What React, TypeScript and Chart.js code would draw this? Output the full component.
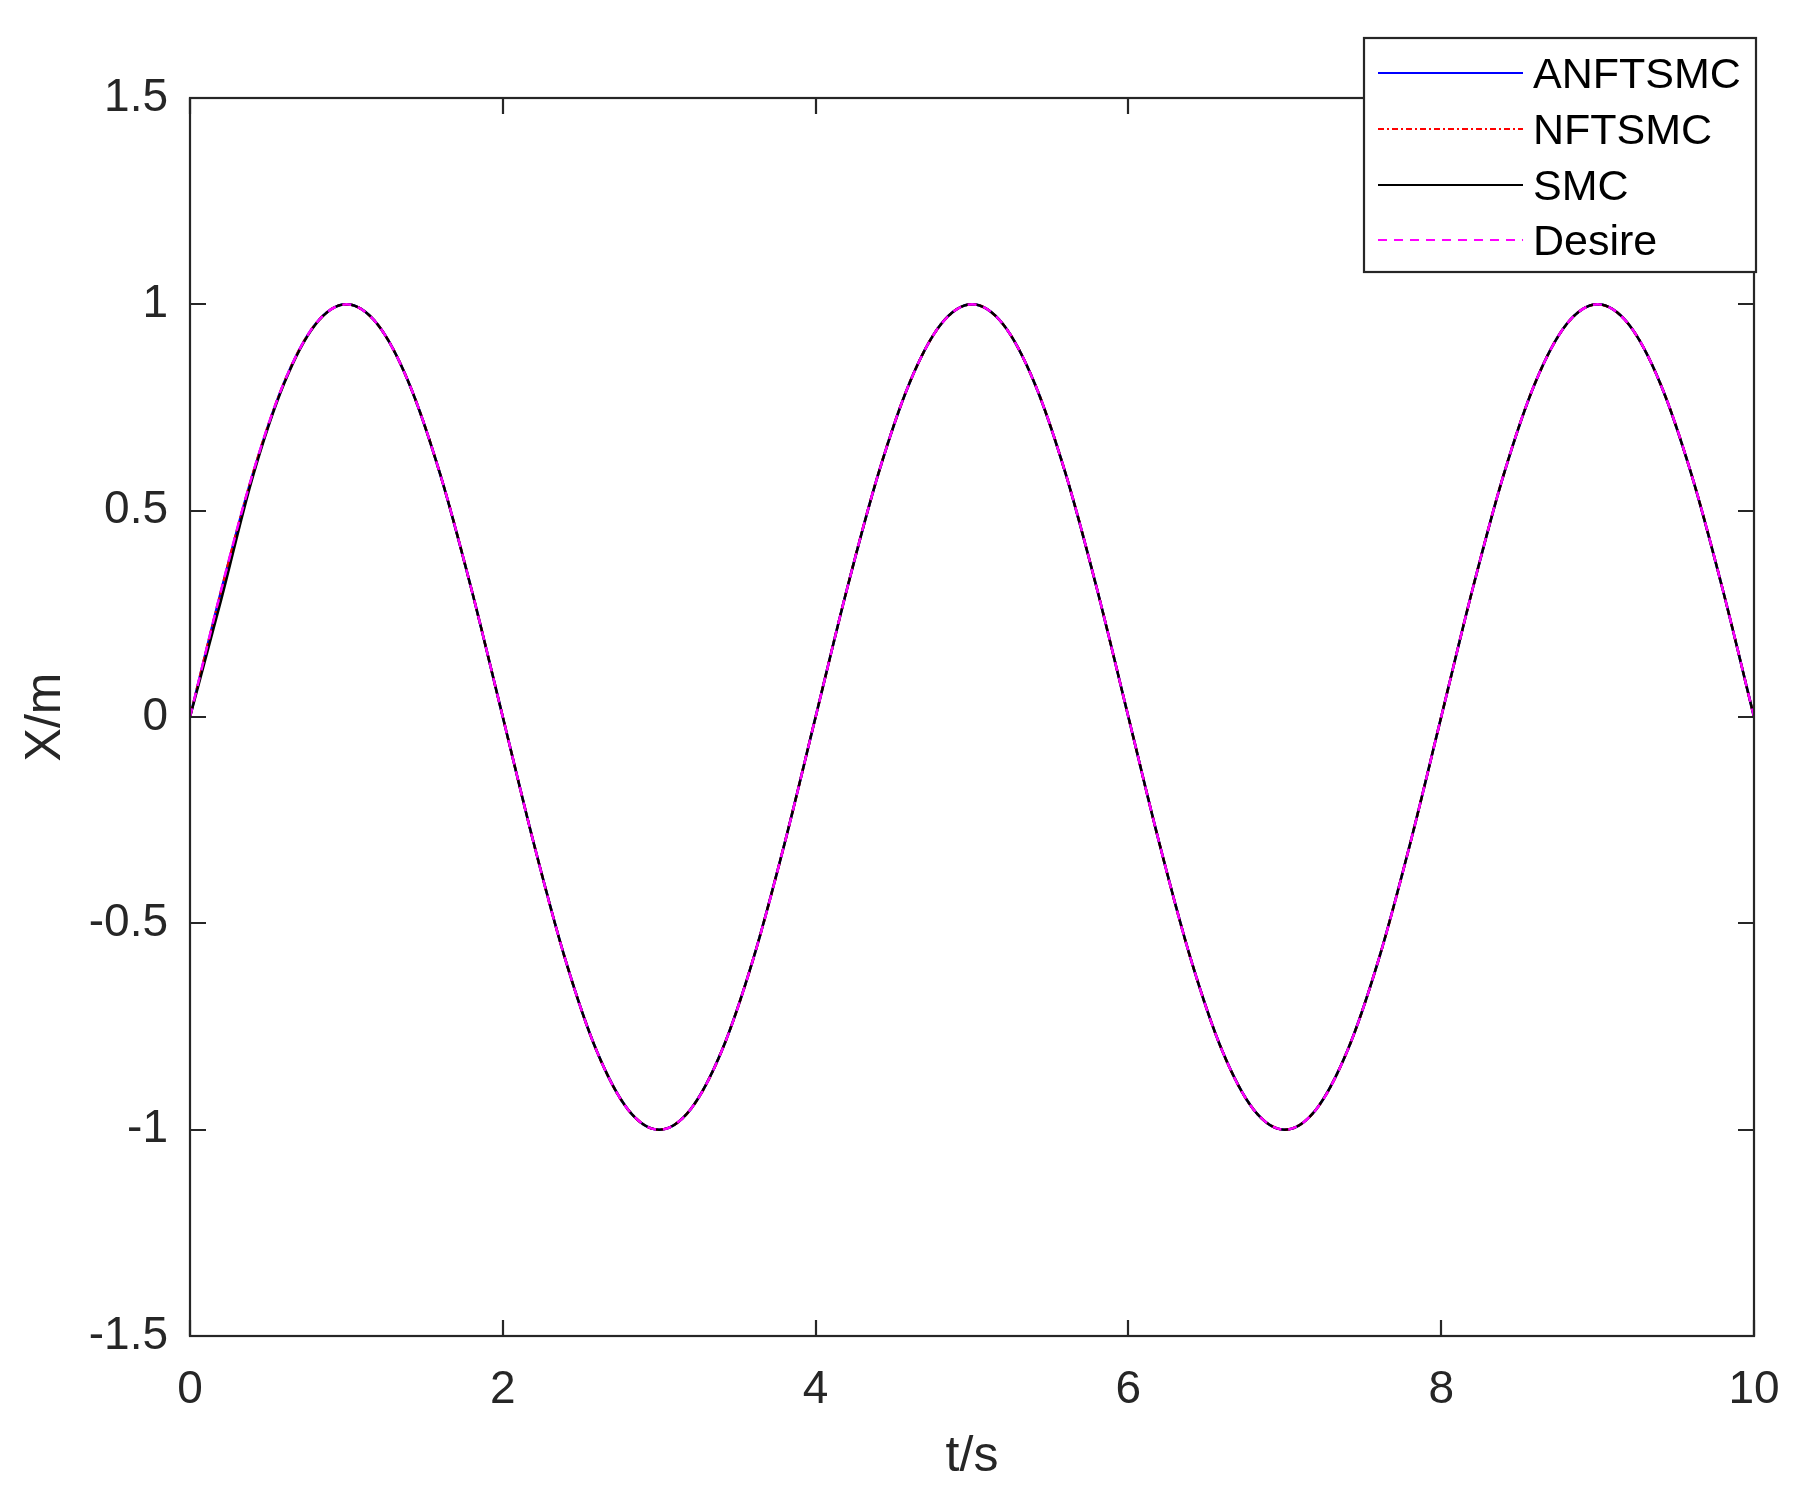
import React, { useEffect, useRef } from "react";
import { Chart, registerables } from "chart.js";

Chart.register(...registerables);

// ---- data ----
const timeValues = [
  0, 0.2, 0.4, 0.6, 0.8, 1, 1.2, 1.4, 1.6, 1.8,
  2, 2.2, 2.4, 2.6, 2.8, 3, 3.2, 3.4, 3.6, 3.8,
  4, 4.2, 4.4, 4.6, 4.8, 5, 5.2, 5.4, 5.6, 5.8,
  6, 6.2, 6.4, 6.6, 6.8, 7, 7.2, 7.4, 7.6, 7.8,
  8, 8.2, 8.4, 8.6, 8.8, 9, 9.2, 9.4, 9.6, 9.8,
  10,
];

const anftsmcValues = [
  0, 0.307, 0.587, 0.809, 0.951, 1, 0.951, 0.809, 0.588, 0.309,
  0, -0.309, -0.588, -0.809, -0.951, -1, -0.951, -0.809, -0.588, -0.309,
  0, 0.309, 0.588, 0.809, 0.951, 1, 0.951, 0.809, 0.588, 0.309,
  0, -0.309, -0.588, -0.809, -0.951, -1, -0.951, -0.809, -0.588, -0.309,
  0, 0.309, 0.588, 0.809, 0.951, 1, 0.951, 0.809, 0.588, 0.309,
  0,
];

const nftsmcValues = [
  0, 0.306, 0.587, 0.809, 0.951, 1, 0.951, 0.809, 0.588, 0.309,
  0, -0.309, -0.588, -0.809, -0.951, -1, -0.951, -0.809, -0.588, -0.309,
  0, 0.309, 0.588, 0.809, 0.951, 1, 0.951, 0.809, 0.588, 0.309,
  0, -0.309, -0.588, -0.809, -0.951, -1, -0.951, -0.809, -0.588, -0.309,
  0, 0.309, 0.588, 0.809, 0.951, 1, 0.951, 0.809, 0.588, 0.309,
  0,
];

const smcValues = [
  0, 0.285, 0.580, 0.806, 0.950, 1, 0.951, 0.809, 0.588, 0.309,
  0, -0.309, -0.588, -0.809, -0.951, -1, -0.951, -0.809, -0.588, -0.309,
  0, 0.309, 0.588, 0.809, 0.951, 1, 0.951, 0.809, 0.588, 0.309,
  0, -0.309, -0.588, -0.809, -0.951, -1, -0.951, -0.809, -0.588, -0.309,
  0, 0.309, 0.588, 0.809, 0.951, 1, 0.951, 0.809, 0.588, 0.309,
  0,
];

const desireValues = [
  0, 0.309, 0.588, 0.809, 0.951, 1, 0.951, 0.809, 0.588, 0.309,
  0, -0.309, -0.588, -0.809, -0.951, -1, -0.951, -0.809, -0.588, -0.309,
  0, 0.309, 0.588, 0.809, 0.951, 1, 0.951, 0.809, 0.588, 0.309,
  0, -0.309, -0.588, -0.809, -0.951, -1, -0.951, -0.809, -0.588, -0.309,
  0, 0.309, 0.588, 0.809, 0.951, 1, 0.951, 0.809, 0.588, 0.309,
  0,
];

const seriesLabels = ["ANFTSMC", "NFTSMC", "SMC", "Desire"];
const xTickValues = [0, 2, 4, 6, 8, 10];
const yTickValues = [-1.5, -1, -0.5, 0, 0.5, 1, 1.5];
const xAxisTitle = "t/s";
const yAxisTitle = "X/m";

const FONT = "'Liberation Sans', Arial, sans-serif";
const AXIS_COLOR = "#262626";

const W = 1812;
const H = 1502;

const toPoints = (ys: number[]) => timeValues.map((t, i) => ({ x: t, y: ys[i] }));

const decorPlugin = {
  id: "matlabDecor",
  afterDraw(chart: any) {
    const ctx = chart.ctx;
    const { left, right, top, bottom } = chart.chartArea;
    const xs = chart.scales.x;
    const ys = chart.scales.y;
    const tickLen = 16;
    ctx.save();
    ctx.strokeStyle = AXIS_COLOR;
    ctx.lineWidth = 2.2;
    ctx.setLineDash([]);
    // box
    ctx.strokeRect(left, top, right - left, bottom - top);
    // inward ticks
    ctx.beginPath();
    for (const v of xTickValues) {
      const px = Math.round(xs.getPixelForValue(v));
      ctx.moveTo(px, bottom);
      ctx.lineTo(px, bottom - tickLen);
      ctx.moveTo(px, top);
      ctx.lineTo(px, top + tickLen);
    }
    for (const v of yTickValues) {
      const py = Math.round(ys.getPixelForValue(v));
      ctx.moveTo(left, py);
      ctx.lineTo(left + tickLen, py);
      ctx.moveTo(right, py);
      ctx.lineTo(right - tickLen, py);
    }
    ctx.stroke();

    // axis titles
    ctx.fillStyle = AXIS_COLOR;
    ctx.font = `50px ${FONT}`;
    ctx.textAlign = "center";
    ctx.textBaseline = "alphabetic";
    ctx.fillText(xAxisTitle, (left + right) / 2, 1471);
    ctx.save();
    ctx.translate(60, (top + bottom) / 2);
    ctx.rotate(-Math.PI / 2);
    ctx.fillText(yAxisTitle, 0, 0);
    ctx.restore();

    // legend
    const lx0 = 1364, ly0 = 38, lx1 = 1756, ly1 = 272;
    ctx.fillStyle = "#ffffff";
    ctx.fillRect(lx0, ly0, lx1 - lx0, ly1 - ly0);
    ctx.strokeStyle = AXIS_COLOR;
    ctx.lineWidth = 2.2;
    ctx.strokeRect(lx0, ly0, lx1 - lx0, ly1 - ly0);
    const rowY = [73, 129, 185, 240];
    chart.data.datasets.forEach((ds: any, i: number) => {
      const y = rowY[i];
      ctx.strokeStyle = ds.borderColor;
      ctx.lineWidth = 2;
      ctx.setLineDash(ds.borderDash || []);
      ctx.beginPath();
      ctx.moveTo(1378, y);
      ctx.lineTo(1523, y);
      ctx.stroke();
      ctx.setLineDash([]);
      ctx.fillStyle = "#000000";
      ctx.font = `43px ${FONT}`;
      ctx.textAlign = "left";
      ctx.textBaseline = "middle";
      ctx.fillText(ds.label, 1533, y + 3);
    });
    ctx.restore();
  },
};

export default function App() {
  const canvasRef = useRef<HTMLCanvasElement | null>(null);

  useEffect(() => {
    document.body.style.margin = "0";
    document.body.style.background = "#ffffff";
    const canvas = canvasRef.current;
    if (!canvas) return;
    const chart = new Chart(canvas, {
      type: "line",
      data: {
        datasets: [
          {
            label: seriesLabels[0],
            data: toPoints(anftsmcValues),
            borderColor: "#0000ff",
            borderWidth: 2.5,
            pointRadius: 0,
            cubicInterpolationMode: "monotone",
            order: 4,
          },
          {
            label: seriesLabels[1],
            data: toPoints(nftsmcValues),
            borderColor: "#ff0000",
            borderWidth: 2.5,
            borderDash: [6, 3, 2, 3],
            pointRadius: 0,
            cubicInterpolationMode: "monotone",
            order: 3,
          },
          {
            label: seriesLabels[2],
            data: toPoints(smcValues),
            borderColor: "#000000",
            borderWidth: 2.5,
            pointRadius: 0,
            cubicInterpolationMode: "monotone",
            order: 2,
          },
          {
            label: seriesLabels[3],
            data: toPoints(desireValues),
            borderColor: "#ff00ff",
            borderWidth: 2.5,
            borderDash: [9, 7],
            pointRadius: 0,
            cubicInterpolationMode: "monotone",
            order: 1,
          },
        ],
      } as any,
      options: {
        responsive: false,
        animation: false,
        devicePixelRatio: 1,
        layout: { padding: { top: 98, right: 58, left: 0, bottom: 0 } },
        plugins: { legend: { display: false }, tooltip: { enabled: false }, title: { display: false } },
        scales: {
          x: {
            type: "linear",
            min: 0,
            max: 10,
            afterBuildTicks: (s: any) => {
              s.ticks = xTickValues.map((v) => ({ value: v }));
            },
            afterFit: (s: any) => {
              s.height = 166;
            },
            grid: { display: false, drawTicks: false },
            border: { display: false },
            ticks: {
              padding: 27,
              color: AXIS_COLOR,
              font: { family: FONT, size: 46 },
              maxRotation: 0,
              autoSkip: false,
              callback: (v: any) => String(v),
            },
          },
          y: {
            type: "linear",
            min: -1.5,
            max: 1.5,
            afterBuildTicks: (s: any) => {
              s.ticks = yTickValues.map((v) => ({ value: v }));
            },
            afterFit: (s: any) => {
              s.width = 190;
            },
            grid: { display: false, drawTicks: false },
            border: { display: false },
            ticks: {
              padding: 22,
              color: AXIS_COLOR,
              font: { family: FONT, size: 46 },
              autoSkip: false,
              callback: (v: any) => String(v),
            },
          },
        },
      } as any,
      plugins: [decorPlugin],
    });
    return () => chart.destroy();
  }, []);

  return (
    <div style={{ width: W, height: H, overflow: "hidden", background: "#fff" }}>
      <canvas ref={canvasRef} width={W} height={H} style={{ display: "block", width: W, height: H }} />
    </div>
  );
}
